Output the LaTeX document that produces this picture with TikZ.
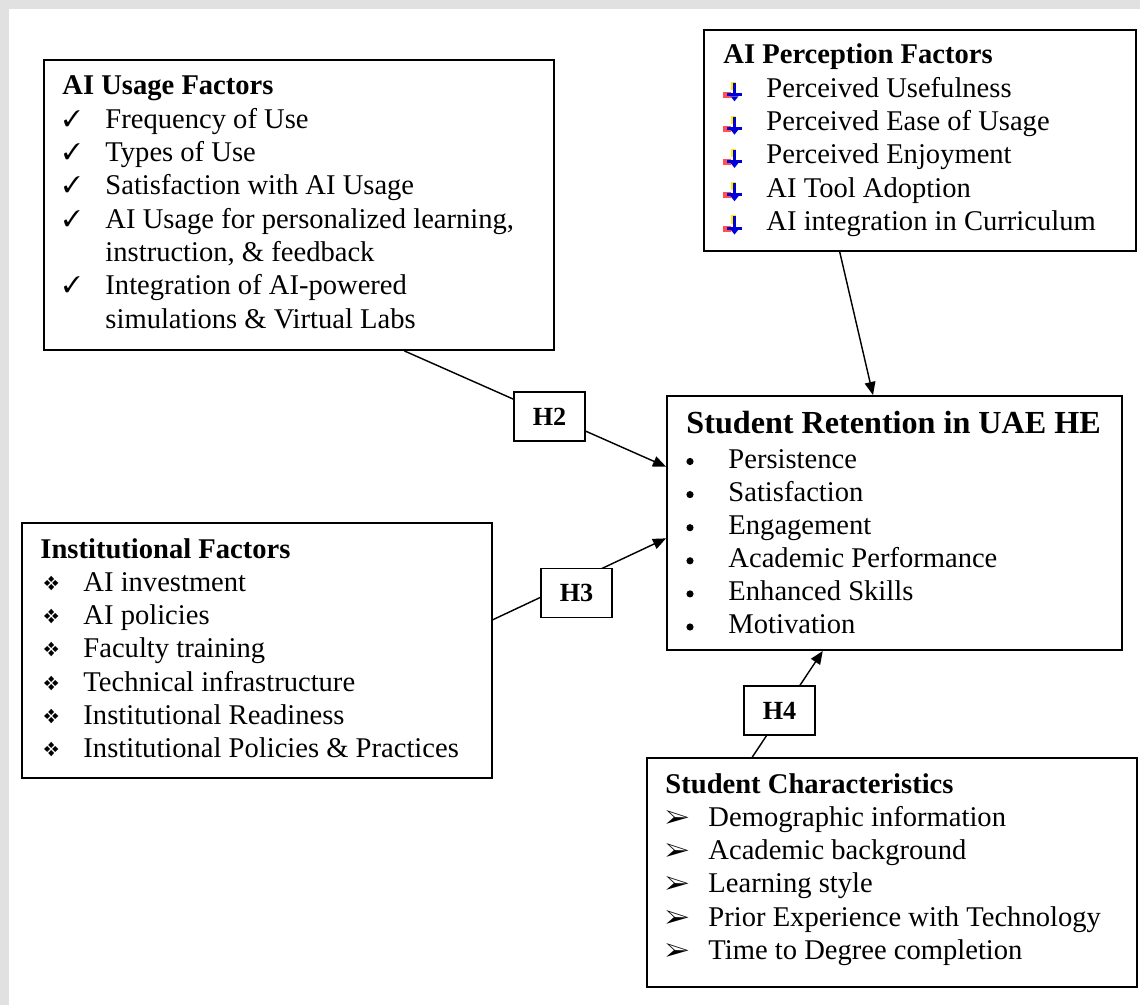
\documentclass[tikz,border=0pt]{standalone}
\usepackage{fontspec}
\setmainfont{Liberation Serif}
\usepackage{pifont}
\usetikzlibrary{arrows.meta,calc,fit}
\definecolor{framegray}{RGB}{225,225,225}
\tikzset{
  factor/.style={draw, line width=.8pt, inner sep=0pt},
  hyp/.style={draw, line width=.8pt, fill=white, inner sep=0pt,
    minimum width=29.8pt, minimum height=20.6pt, font=\fontsize{11}{13}\selectfont\bfseries},
  link/.style={line width=.6pt, -{Triangle[length=5.5pt,width=4.5pt]}},
  txt/.style={anchor=base west, inner sep=0pt},
  head/.style={txt, font=\fontsize{12}{14}\selectfont\bfseries},
  dot/.style={circle, fill, inner sep=0pt, minimum size=3pt},
  percicon/.pic={
    \fill[yellow!95!orange] (8,-13) rectangle (13,-5);
    \fill[red!80, opacity=.85] (0,-3) rectangle (8,3);
    \fill[blue!85!black] (4,-2) rectangle (19,1);
    \fill[blue!85!black] (10,-12) rectangle (13,1);
    \fill[blue!85!black] (7.5,1) -- (15.5,1) -- (11.5,6) -- cycle;
  }
}
\begin{document}
\begin{tikzpicture}[x=.42pt, y=-.42pt, font=\fontsize{12}{14}\selectfont]
  % page frame
  \fill[framegray] (0,0) rectangle (1140,1005);
  \fill[white] (9,9) rectangle (1140,1005);
  \useasboundingbox (0,0) rectangle (1140,1005);

  % boxes
  \node[factor, fit={(44,60) (554,350)}] (usage) {};
  \node[factor, fit={(704,30) (1136,251)}] (percep) {};
  \node[factor, fit={(667,396) (1122,650)}] (ret) {};
  \node[factor, fit={(22,523) (492,778)}] (inst) {};
  \node[factor, fit={(647,758) (1137,987)}] (stud) {};

  % AI usage factors
  \node[head] (usehead) at (62,95) {AI Usage Factors};
  \foreach \k/\txt in {1/Frequency of Use, 2/Types of Use, 3/Satisfaction with AI Usage,
      4/{AI Usage for personalized learning,}, 5/{instruction, \& feedback},
      6/Integration of AI-powered, 7/simulations \& Virtual Labs}
    \node[txt] (use\k) at (105,{95+33.3*\k}) {\txt};
  \foreach \k in {1,2,3,4,6}
    \node[txt, font=\fontsize{9.5}{11}\selectfont] (usechk\k) at (63,{93+33.3*\k}) {\ding{51}};

  % AI perception factors
  \node[head] (perhead) at (723,64) {AI Perception Factors};
  \foreach \k/\txt in {1/Perceived Usefulness, 2/Perceived Ease of Usage, 3/Perceived Enjoyment,
      4/AI Tool Adoption, 5/AI integration in Curriculum} {
    \node[txt] (per\k) at (766,{64+33.3*\k}) {\txt};
    \pic at (723,{62+33.3*\k}) {percicon};
  }

  % student retention
  \node[head, font=\fontsize{13.5}{16}\selectfont\bfseries] (rethead) at (686,433) {Student Retention in UAE HE};
  \foreach \k/\txt in {0/Persistence, 1/Satisfaction, 2/Engagement,
      3/Academic Performance, 4/Enhanced Skills, 5/Motivation} {
    \node[txt] (ret\k) at (728,{468+33.1*\k}) {\txt};
    \node[dot] (retdot\k) at (690,{461.5+33.1*\k}) {};
  }

  % institutional factors
  \node[head] (insthead) at (40,558) {Institutional Factors};
  \foreach \k/\txt in {1/AI investment, 2/AI policies, 3/Faculty training,
      4/Technical infrastructure, 5/Institutional Readiness, 6/Institutional Policies \& Practices} {
    \node[txt] (inst\k) at (83,{558+33.3*\k}) {\txt};
    \node[txt, font=\fontsize{8.5}{10}\selectfont] (instsym\k) at (43,{557+33.3*\k}) {\ding{118}};
  }

  % student characteristics
  \node[head] (studhead) at (665,793) {Student Characteristics};
  \foreach \k/\txt in {1/Demographic information, 2/Academic background, 3/Learning style,
      4/Prior Experience with Technology, 5/Time to Degree completion} {
    \node[txt] (stud\k) at (708,{793+33.3*\k}) {\txt};
    \node[txt, font=\fontsize{11}{13}\selectfont] (studsym\k) at (665,{793+33.3*\k}) {\ding{226}};
  }

  % hypotheses
  \draw[link] ($(usage.south west)!.706!(usage.south east)$) -- ($(ret.north west)!.28!(ret.south west)$);
  \draw[link] ($(inst.north east)!.38!(inst.south east)$) -- ($(ret.north west)!.56!(ret.south west)$);
  \draw[link] ($(stud.north west)!.216!(stud.north east)$) -- ($(ret.south west)!.343!(ret.south east)$);
  \draw[link] ($(percep.south west)!.315!(percep.south east)$) -- ($(ret.north west)!.453!(ret.north east)$);
  \node[hyp] (h2) at (549.5,416.5) {H2};
  \node[hyp] (h3) at (576.5,593) {H3};
  \node[hyp] (h4) at (779.5,710.5) {H4};
\end{tikzpicture}
\end{document}
